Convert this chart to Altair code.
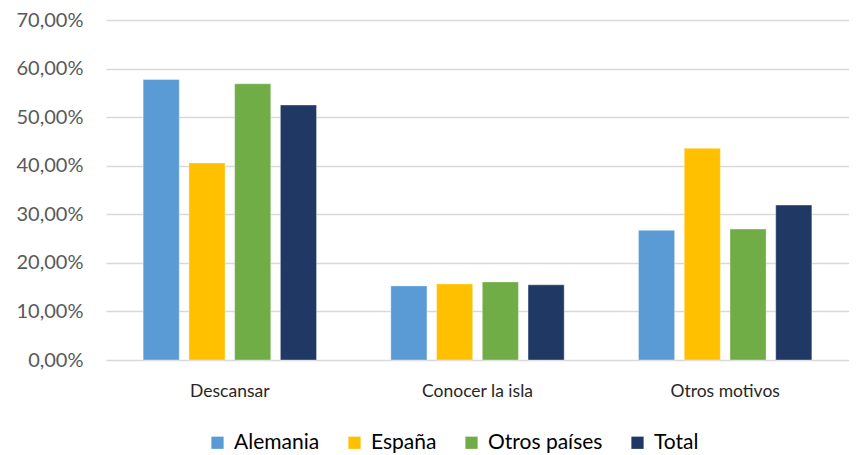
import altair as alt
import pandas as pd

categories = ["Descansar", "Conocer la isla", "Otros motivos"]
series = ["Alemania", "España", "Otros países", "Total"]
alemania = [0.5775, 0.1526, 0.2669]
espana = [0.4058, 0.1567, 0.4359]
otros = [0.5687, 0.1608, 0.2696]
total = [0.5249, 0.1547, 0.3189]
colors = ["#5B9BD5", "#FFC000", "#70AD47", "#203864"]
y_ticks = [0, 0.1, 0.2, 0.3, 0.4, 0.5, 0.6, 0.7]

rows = []
for name, vals in zip(series, [alemania, espana, otros, total]):
    for c, v in zip(categories, vals):
        rows.append({"motivo": c, "serie": name, "valor": v})
df = pd.DataFrame(rows)

font = "Lato"

chart = alt.Chart(df).mark_bar(stroke="white", strokeWidth=0.6, strokeOpacity=0.6).encode(
    x=alt.X("motivo:N", sort=categories, title=None,
            scale=alt.Scale(paddingInner=0.3, paddingOuter=0.15),
            axis=alt.Axis(labelAngle=0, ticks=False, domain=False, labelPadding=22,
                          labelFontSize=17.5, labelColor="#262626", labelFont=font)),
    xOffset=alt.XOffset("serie:N", sort=series,
                        scale=alt.Scale(paddingInner=0.21, paddingOuter=0)),
    y=alt.Y("valor:Q", title=None,
            scale=alt.Scale(domain=[0, 0.7], nice=False),
            axis=alt.Axis(values=y_ticks, ticks=False, domain=False, labelPadding=23,
                          labelExpr="replace(format(datum.value, '.2%'), '.', ',')",
                          labelFontSize=20, labelColor="#595959", labelFont=font,
                          gridColor="#D9D9D9", gridWidth=1.5)),
    color=alt.Color("serie:N", sort=series,
                    scale=alt.Scale(domain=series, range=colors),
                    legend=alt.Legend(title=None, orient="none", direction="horizontal",
                                      legendX=101, legendY=412, symbolType="square",
                                      symbolSize=150, symbolStrokeWidth=0,
                                      labelFontSize=21, labelFont=font, labelColor="#000000",
                                      columnPadding=24, labelOffset=6, labelLimit=300)),
).properties(
    width=743, height=340,
    autosize=alt.AutoSizeParams(type="none"),
    padding={"left": 98, "top": 12, "right": 0, "bottom": 93},
).configure_view(stroke=None)

chart.save("out.html", embed_options={"renderer": "svg", "actions": False})
